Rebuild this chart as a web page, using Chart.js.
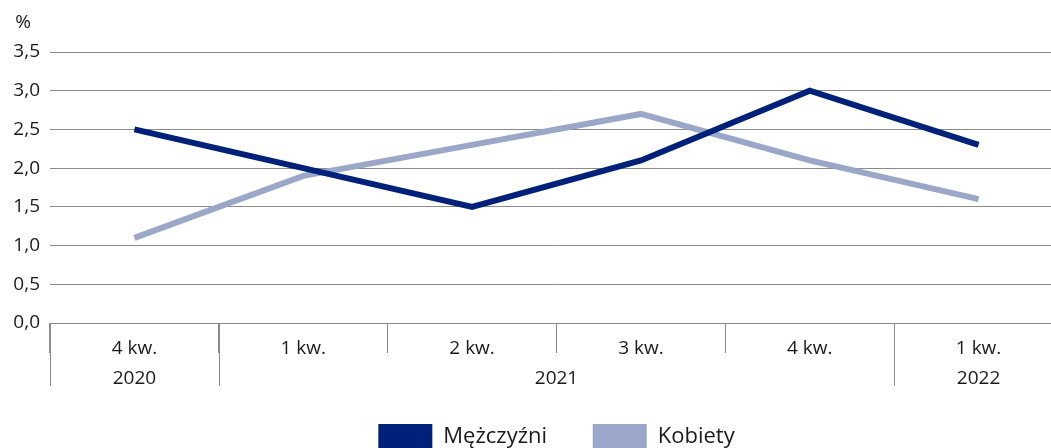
<!DOCTYPE html>
<html>
<head>
<meta charset="utf-8">
<script src="https://cdn.jsdelivr.net/npm/chart.js@4/dist/chart.umd.min.js"></script>
<style>
  html, body { margin: 0; padding: 0; background: #fff; overflow: hidden; }
  #wrap { width: 1063px; height: 460px; position: relative; }
</style>
</head>
<body>
<div id="wrap"><canvas id="c" width="1063" height="460"></canvas></div>
<script>
const quarters = ['4 kw.', '1 kw.', '2 kw.', '3 kw.', '4 kw.', '1 kw.'];
const years = ['2020', '2021', '2021', '2021', '2021', '2022'];
const men = [2.5, 2.0, 1.5, 2.1, 3.0, 2.3];
const women = [1.1, 1.9, 2.3, 2.7, 2.1, 1.6];
const seriesNames = ['Mężczyźni', 'Kobiety'];
const unitLabel = '%';

const FONT = '"Open Sans", "Noto Sans", sans-serif';
const TEXT = '#1a1a1a';
const LINE = '#8a8a8a';

const yearPlugin = {
  id: 'yearRow',
  afterDraw(chart) {
    const ctx = chart.ctx;
    const xs = chart.scales.x;
    const ys = chart.scales.y;
    const top = chart.chartArea.bottom;
    const half = (xs.getPixelForValue(1) - xs.getPixelForValue(0)) / 2;
    const groups = [];
    years.forEach((y, i) => {
      if (groups.length && groups[groups.length - 1].label === y) groups[groups.length - 1].end = i;
      else groups.push({ label: y, start: i, end: i });
    });
    ctx.save();
    ctx.strokeStyle = LINE;
    ctx.lineWidth = 1;
    ctx.fillStyle = TEXT;
    ctx.font = '19px ' + FONT;
    ctx.textAlign = 'center';
    ctx.textBaseline = 'middle';
    groups.forEach((g, gi) => {
      const left = xs.getPixelForValue(g.start) - half;
      const right = xs.getPixelForValue(g.end) + half;
      const bx = [left];
      if (gi === groups.length - 1) bx.push(right);
      bx.forEach(x => {
        const px = Math.round(x) + 0.5;
        ctx.beginPath();
        ctx.moveTo(px, top);
        ctx.lineTo(px, top + 63);
        ctx.stroke();
      });
      ctx.fillText(g.label, (left + right) / 2, top + 56);
    });
    ctx.font = '19px ' + FONT;
    ctx.textAlign = 'center';
    ctx.fillText(unitLabel, 23, ys.top - 29);
    ctx.restore();
  }
};

new Chart(document.getElementById('c'), {
  type: 'line',
  data: {
    labels: quarters,
    datasets: [
      { label: seriesNames[0], data: men, borderColor: '#00217a', backgroundColor: '#00217a', borderWidth: 6, pointRadius: 0, tension: 0 },
      { label: seriesNames[1], data: women, borderColor: '#9aa7c9', backgroundColor: '#9aa7c9', borderWidth: 6, pointRadius: 0, tension: 0 }
    ]
  },
  options: {
    responsive: false,
    animation: false,
    layout: { padding: { top: 52, left: 0, right: 0, bottom: 0 } },
    plugins: {
      tooltip: { enabled: false },
      legend: {
        position: 'bottom',
        fullSize: false,
        labels: {
          boxWidth: 54,
          boxHeight: 26,
          padding: 0,
          color: TEXT,
          font: { family: FONT, size: 22 },
          generateLabels(chart) {
            const n = chart.data.datasets.length;
            return chart.data.datasets.map((d, i) => ({
              text: d.label + (i < n - 1 ? '        ' : ''),
              fillStyle: d.borderColor,
              strokeStyle: d.borderColor,
              lineWidth: 0,
              datasetIndex: i,
              fontColor: TEXT
            }));
          }
        }
      }
    },
    scales: {
      x: {
        offset: true,
        grid: { offset: true, drawOnChartArea: false, drawTicks: true, tickLength: 30, color: LINE },
        border: { display: false },
        ticks: { color: TEXT, font: { family: FONT, size: 19 }, padding: -16, maxRotation: 0, autoSkip: false },
        afterFit(s) { s.height = 101; }
      },
      y: {
        min: 0,
        max: 3.5,
        grid: { color: LINE, drawTicks: false },
        border: { display: false },
        ticks: {
          stepSize: 0.5,
          color: TEXT,
          font: { family: FONT, size: 19 },
          padding: 10,
          callback: v => v.toFixed(1).replace('.', ',')
        },
        afterFit(s) { s.width = 50; }
      }
    }
  },
  plugins: [yearPlugin]
});
</script>
</body>
</html>
